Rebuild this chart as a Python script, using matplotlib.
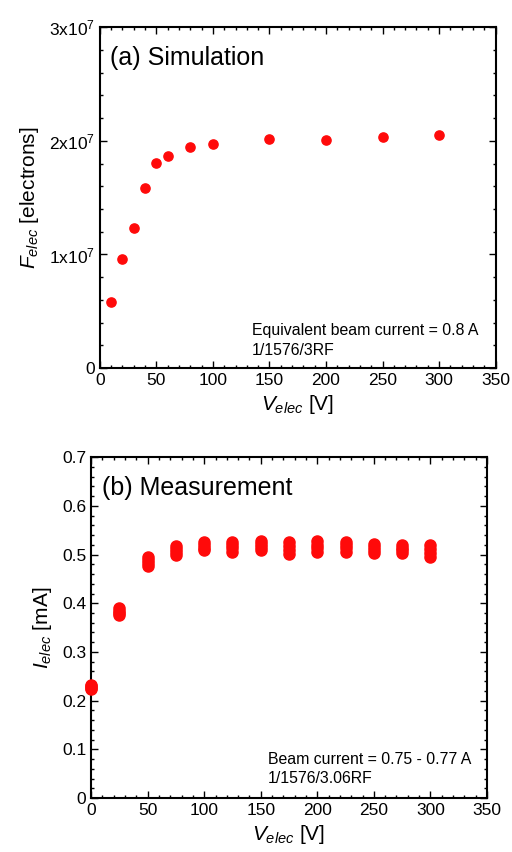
"""
Electron yield vs electrode voltage: simulation (a) and measurement (b).
"""

import matplotlib
matplotlib.use("Agg")
import matplotlib.pyplot as plt
from matplotlib.ticker import MultipleLocator, FuncFormatter

plt.rcParams['font.family'] = ['Liberation Sans', 'DejaVu Sans']
plt.rcParams['mathtext.fontset'] = 'custom'
plt.rcParams['mathtext.rm'] = 'Liberation Sans'
plt.rcParams['mathtext.it'] = 'Liberation Sans:italic'

# (a) simulation
sim_voltage = [10, 20, 30, 40, 50, 60, 80, 100, 150, 200, 250, 300]
sim_electrons = [5.79e6, 9.59e6, 1.234e7, 1.582e7, 1.807e7, 1.871e7,
                 1.950e7, 1.971e7, 2.020e7, 2.012e7, 2.035e7, 2.050e7]

# (b) measurement: several readings per voltage
meas_voltage = [0, 25, 50, 75, 100, 125, 150, 175, 200, 225, 250, 275, 300]
meas_current = [
    [0.223, 0.226, 0.229, 0.233],
    [0.376, 0.380, 0.385, 0.390],
    [0.476, 0.482, 0.488, 0.494],
    [0.500, 0.506, 0.511, 0.517],
    [0.509, 0.514, 0.520, 0.526],
    [0.506, 0.513, 0.520, 0.526],
    [0.509, 0.515, 0.521, 0.527],
    [0.502, 0.510, 0.518, 0.526],
    [0.506, 0.513, 0.520, 0.527],
    [0.506, 0.513, 0.520, 0.526],
    [0.503, 0.509, 0.516, 0.522],
    [0.504, 0.509, 0.514, 0.519],
    [0.496, 0.504, 0.511, 0.519],
]

RED = '#ff0a0a'


def style_axes(ax, x_minor, y_minor):
    """Inward ticks on all four sides, heavy frame."""
    for spine in ax.spines.values():
        spine.set_linewidth(1.5)
    ax.xaxis.set_minor_locator(MultipleLocator(x_minor))
    ax.yaxis.set_minor_locator(MultipleLocator(y_minor))
    ax.tick_params(which='both', direction='in', top=True, right=True,
                   labelsize=12.5, width=1.0)
    ax.tick_params(which='major', length=5)
    ax.tick_params(which='minor', length=2.5)


fig = plt.figure(figsize=(5.12, 8.52), dpi=100)

# Top panel
ax1 = fig.add_axes([0.195, 0.568, 0.773, 0.400])
ax1.scatter(sim_voltage, sim_electrons, s=44, color=RED, zorder=3)
ax1.set_xlim(0, 350)
ax1.set_ylim(0, 3e7)
ax1.xaxis.set_major_locator(MultipleLocator(50))
ax1.yaxis.set_major_locator(MultipleLocator(1e7))
ax1.yaxis.set_major_formatter(FuncFormatter(
    lambda v, _: '0' if v == 0 else r'$\mathregular{%dx10^{7}}$' % round(v / 1e7)))
style_axes(ax1, 10, 2e6)
ax1.set_xlabel(r'$V_{elec}$ [V]', fontsize=15, labelpad=4)
ax1.set_ylabel(r'$F_{elec}$ [electrons]', fontsize=15, labelpad=6)
ax1.text(0.025, 0.945, '(a) Simulation', transform=ax1.transAxes,
         fontsize=18, va='top', ha='left')
ax1.text(0.384, 0.109, 'Equivalent beam current = 0.8 A', transform=ax1.transAxes,
         fontsize=11.4, va='center', ha='left')
ax1.text(0.384, 0.053, '1/1576/3RF', transform=ax1.transAxes,
         fontsize=11.4, va='center', ha='left')

# Bottom panel
ax2 = fig.add_axes([0.178, 0.0634, 0.773, 0.400])
for v, readings in zip(meas_voltage, meas_current):
    ax2.scatter([v] * len(readings), readings, s=64, color=RED,
                zorder=3, clip_on=False)
ax2.set_xlim(0, 350)
ax2.set_ylim(0, 0.7)
ax2.xaxis.set_major_locator(MultipleLocator(50))
ax2.yaxis.set_major_locator(MultipleLocator(0.1))
ax2.yaxis.set_major_formatter(FuncFormatter(
    lambda v, _: '0' if abs(v) < 1e-9 else '%.1f' % v))
style_axes(ax2, 10, 0.02)
ax2.set_xlabel(r'$V_{elec}$ [V]', fontsize=15, labelpad=4)
ax2.set_ylabel(r'$I_{elec}$ [mA]', fontsize=15, labelpad=6)
ax2.text(0.027, 0.945, '(b) Measurement', transform=ax2.transAxes,
         fontsize=18, va='top', ha='left')
ax2.text(0.446, 0.113, 'Beam current = 0.75 - 0.77 A', transform=ax2.transAxes,
         fontsize=11.4, va='center', ha='left')
ax2.text(0.446, 0.057, '1/1576/3.06RF', transform=ax2.transAxes,
         fontsize=11.4, va='center', ha='left')

fig.savefig('out.png', dpi=100)
